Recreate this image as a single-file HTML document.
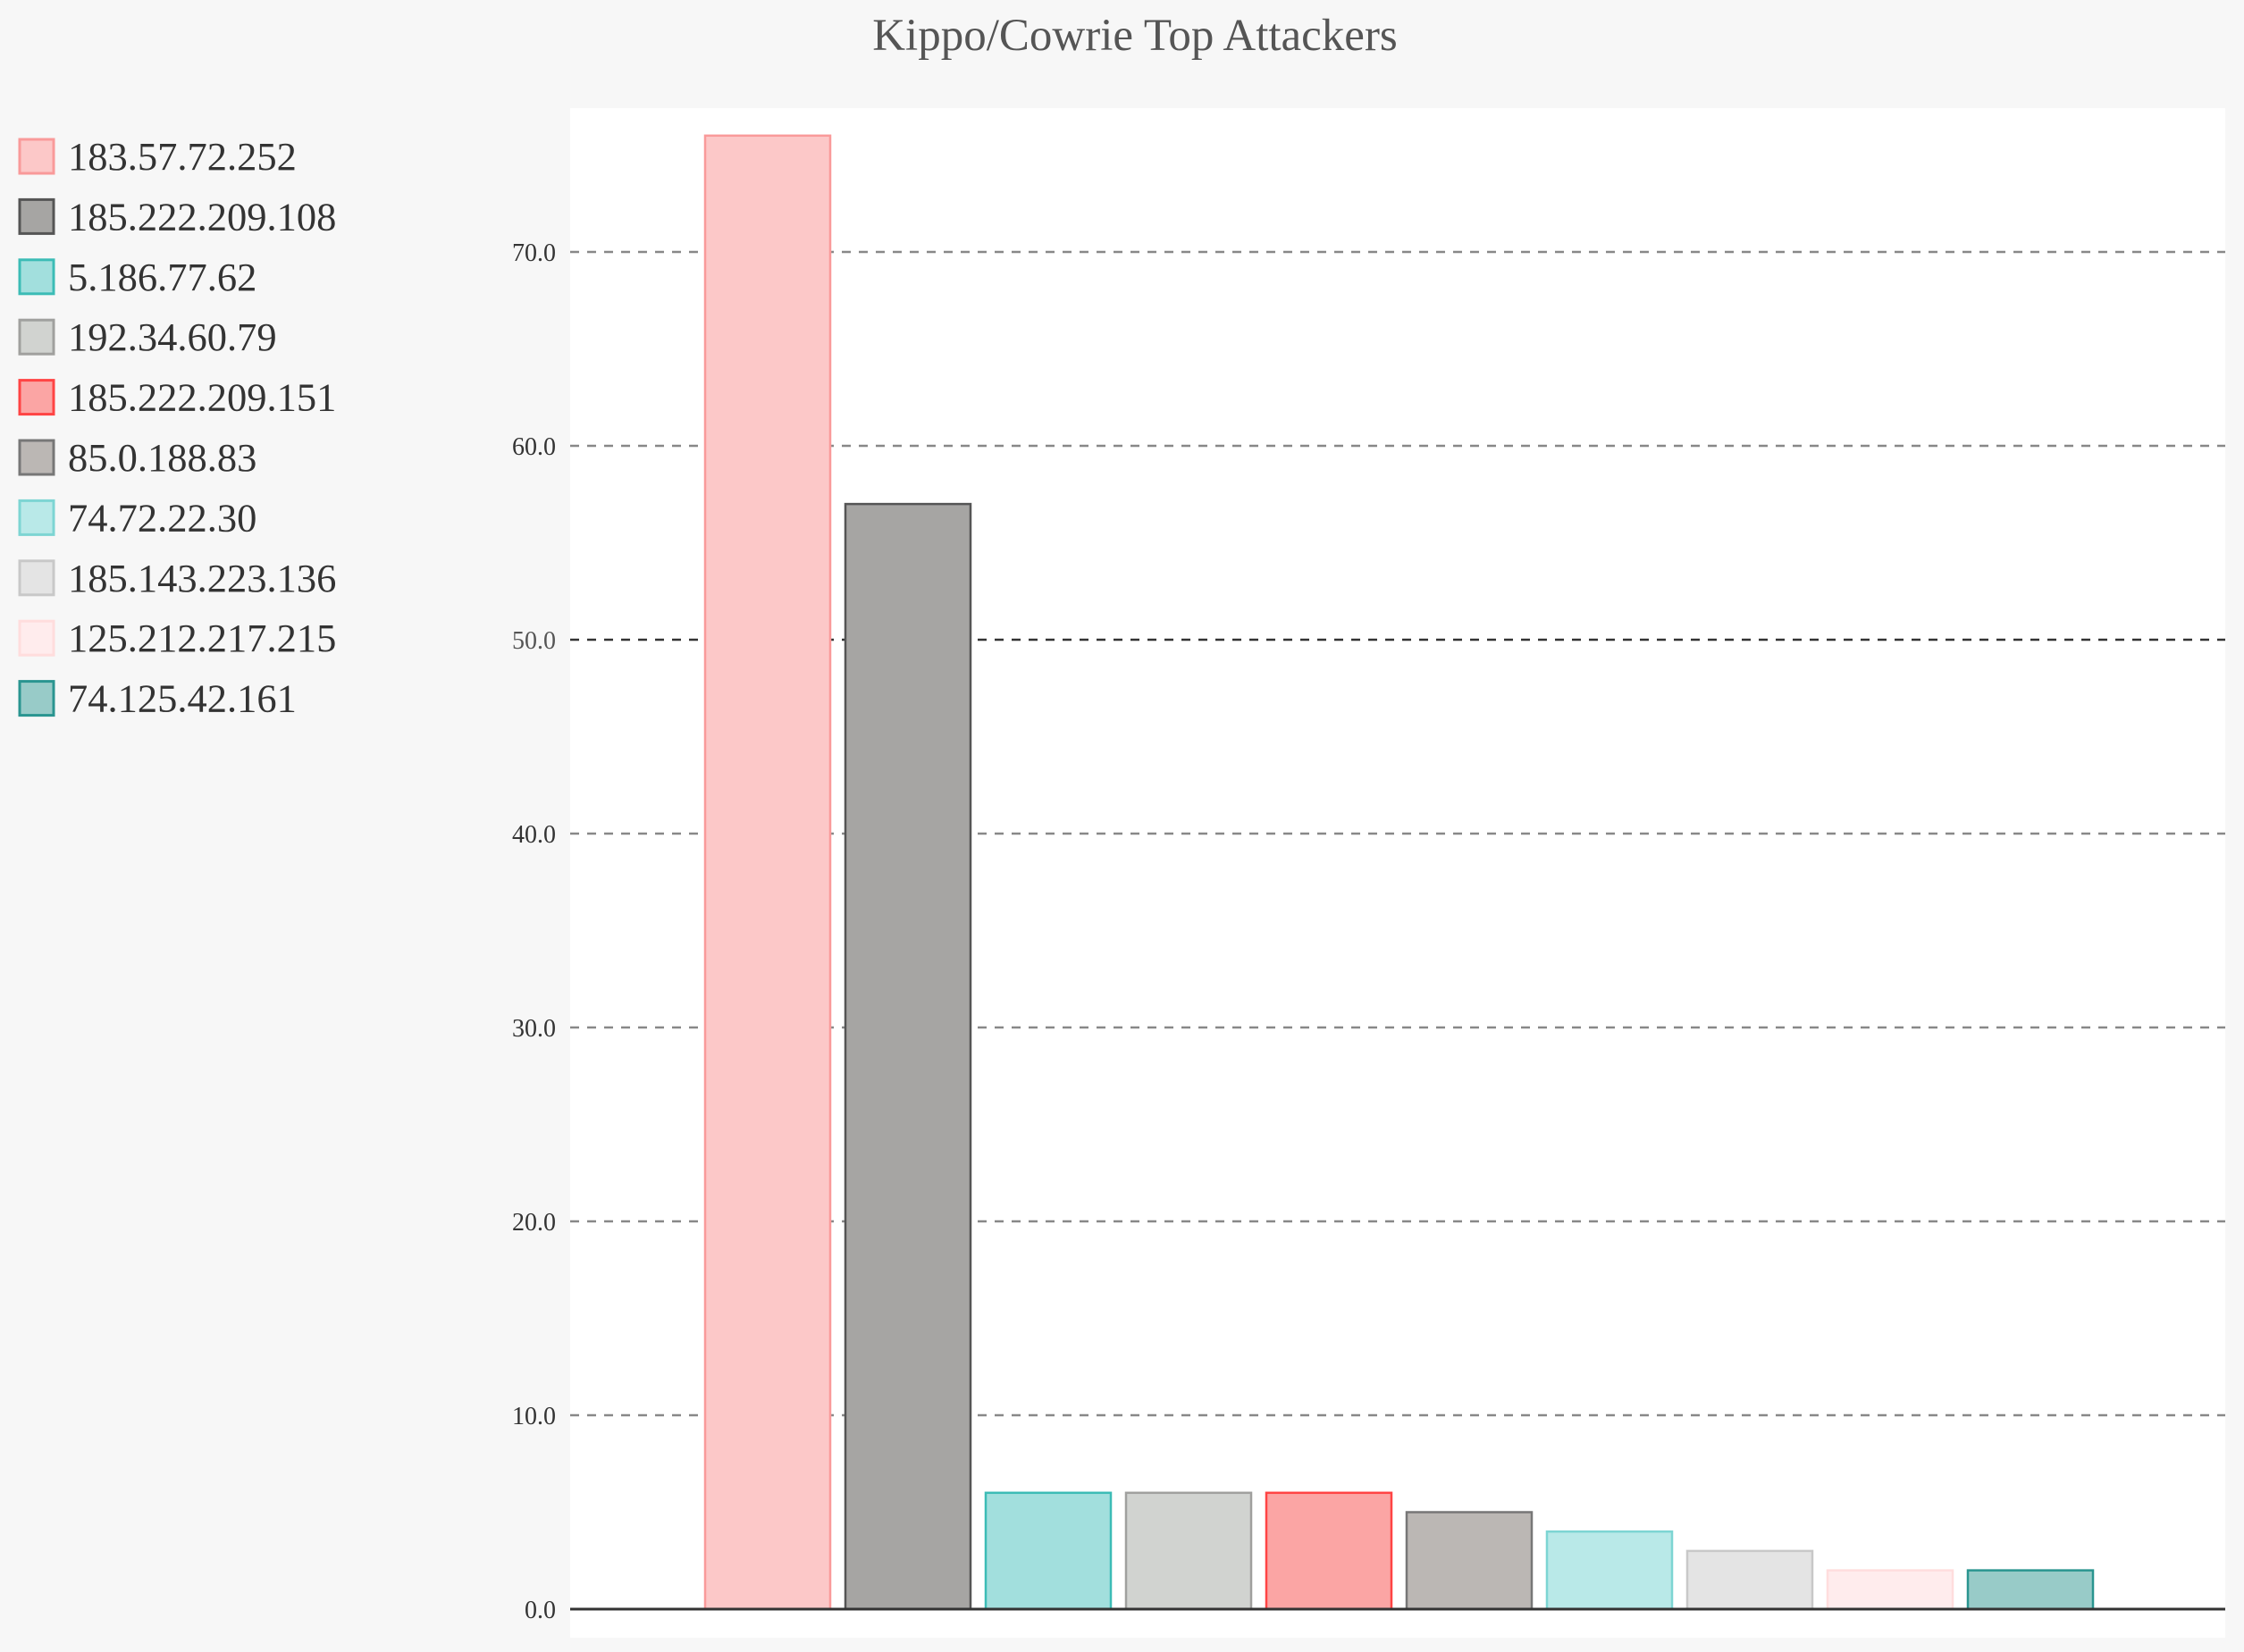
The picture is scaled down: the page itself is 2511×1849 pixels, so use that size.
<!DOCTYPE html>
<html><head><meta charset="utf-8"><style>
html,body{margin:0;padding:0;background:#f7f7f7;}
svg{display:block;font-family:"Liberation Serif",serif;}
</style></head><body>
<svg id="chart" width="2511" height="1849" viewBox="0 0 2511 1849">
<rect x="0" y="0" width="2511" height="1849" fill="#f7f7f7"/>
<text x="1270" y="56" text-anchor="middle" font-size="51" fill="#555">Kippo/Cowrie Top Attackers</text>
<rect x="638" y="121" width="1852" height="1712" fill="#fff"/>
<g id="grid"></g><g id="bars"></g><g id="legend"></g>
</svg>
<script>
const categories=["183.57.72.252","185.222.209.108","5.186.77.62","192.34.60.79","185.222.209.151","85.0.188.83","74.72.22.30","185.143.223.136","125.212.217.215","74.125.42.161"];
const values=[76,57,6,6,6,5,4,3,2,2];
const ticks=[0,10,20,30,40,50,60,70];
const tickLabels=["0.0","10.0","20.0","30.0","40.0","50.0","60.0","70.0"];
const fills=["#fcc8c8","#a6a5a3","#a2dfdd","#d1d3d0","#fba5a4","#bbb7b4","#b9e9e8","#e4e4e4","#ffeced","#98cbc8"];
const strokes=["#f99a9a","#555","#3cbcb6","#a0a09e","#f44","#777","#7dd5d3","#c8c8c8","#fdd","#2a9590"];
const NS="http://www.w3.org/2000/svg";
const y0=1801, pxPerUnit=21.7;
function yScale(v){return y0-v*pxPerUnit;}
function xScale(i){return 789+i*157;}
const bw=140;
function mk(t,a,p){const e=document.createElementNS(NS,t);for(const k in a)e.setAttribute(k,a[k]);p.appendChild(e);return e;}
const grid=document.getElementById('grid');
ticks.forEach((t,i)=>{
  const y=yScale(t);
  if(t>0){
    const ln=mk('line',{x1:638,x2:2490,y1:y,y2:y,stroke:t===50?'#333':'#888','stroke-width':2.5,'stroke-dasharray':'10 9'},grid);
    
    
  }
  const tx=mk('text',{x:622,y:y+10,'text-anchor':'end','font-size':28,fill:t===50?'#555':'#333'},grid);
  tx.textContent=tickLabels[i];
  
  
});
const bars=document.getElementById('bars');
values.forEach((v,i)=>{
  const r=mk('rect',{x:xScale(i),y:yScale(v),width:bw,height:y0-yScale(v),fill:fills[i],stroke:strokes[i],'stroke-width':2.5},bars);
  
  
});
const ax=mk('line',{x1:638,x2:2490,y1:y0,y2:y0,stroke:'#333','stroke-width':3},bars);


const lg=document.getElementById('legend');
categories.forEach((c,i)=>{
  const cy=175+i*67.4;
  const g=mk('g',{},lg);
  
  
  mk('rect',{x:22,y:cy-19,width:38,height:38,fill:fills[i],stroke:strokes[i],'stroke-width':3},g);
  const t=mk('text',{x:76,y:cy+15,'font-size':44.5,fill:'#333'},g);
  t.textContent=c;
});
</script>
</body></html>
